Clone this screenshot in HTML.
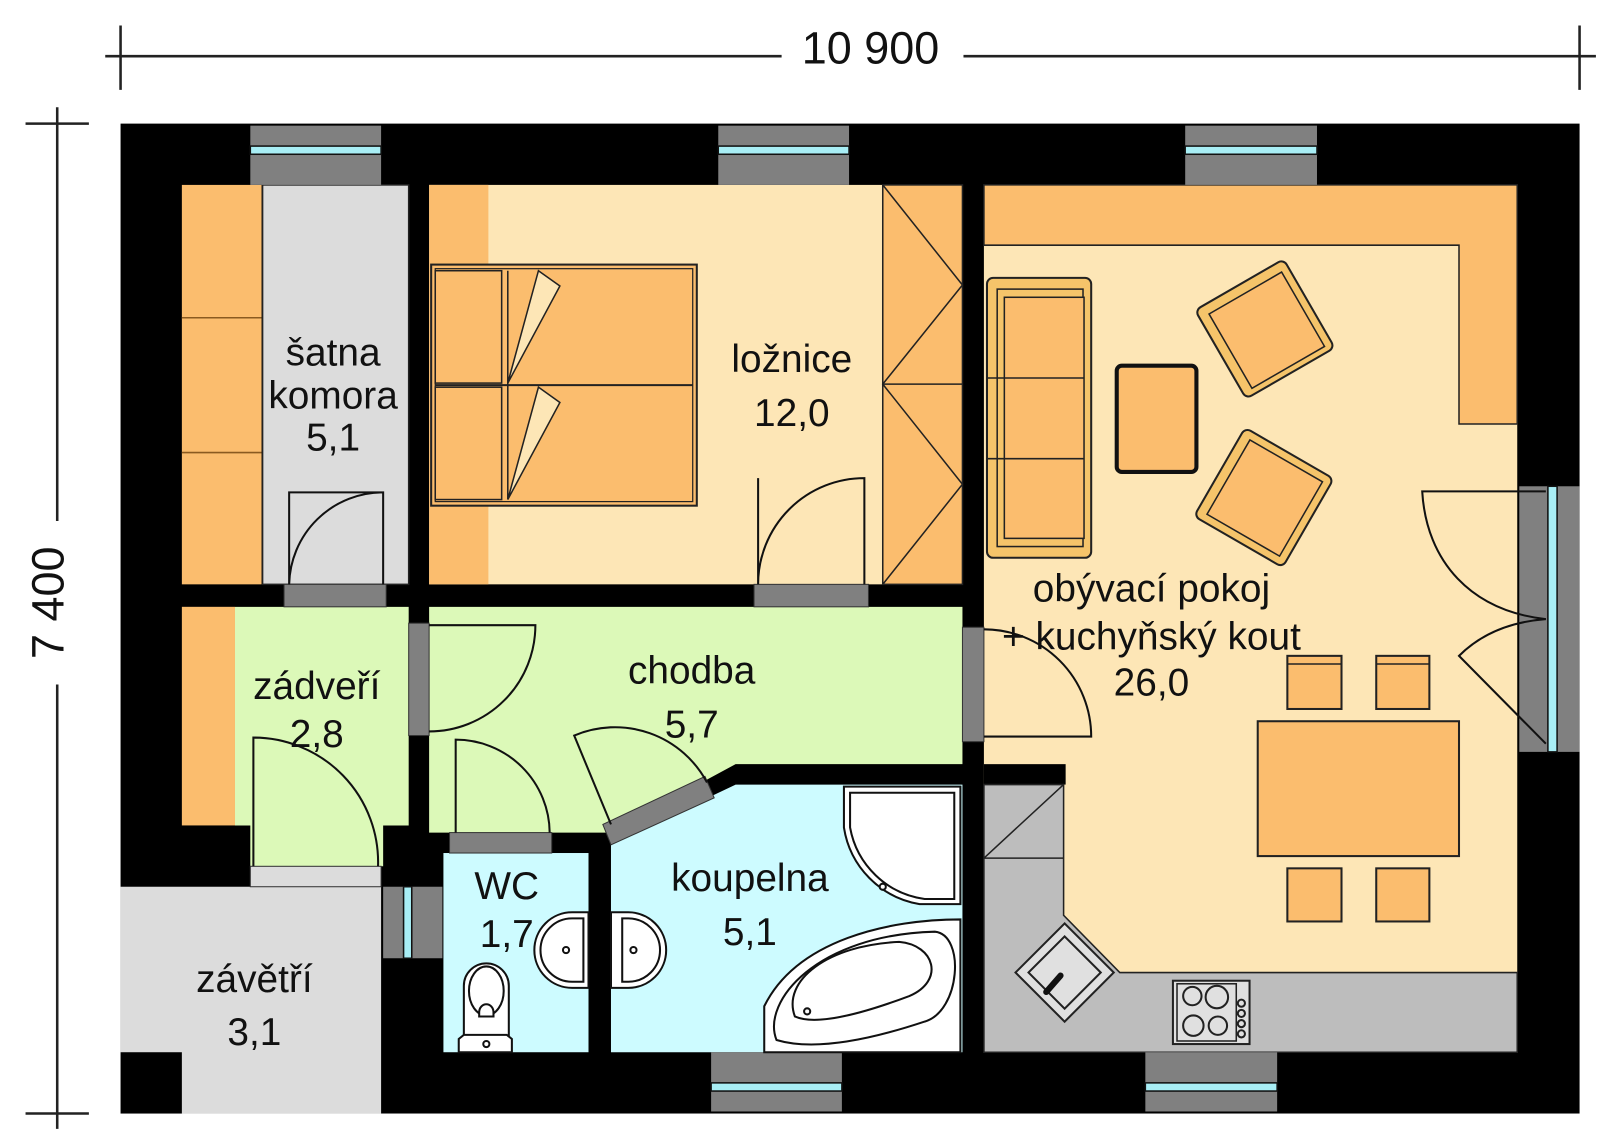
<!DOCTYPE html>
<html><head><meta charset="utf-8"><style>
html,body{margin:0;padding:0;background:#fff;}
svg{display:block}
text{font-family:"Liberation Sans",sans-serif;fill:#111;}
</style></head><body>
<svg width="1600" height="1136" viewBox="0 0 1566 1112" preserveAspectRatio="none" xmlns="http://www.w3.org/2000/svg">
<g stroke="#222" stroke-width="2.5" fill="none">
<line x1="103" y1="55" x2="765" y2="55"/><line x1="943" y1="55" x2="1562" y2="55"/>
<line x1="118" y1="25" x2="118" y2="88"/><line x1="1546" y1="25" x2="1546" y2="88"/>
<line x1="56" y1="105" x2="56" y2="510"/><line x1="56" y1="670" x2="56" y2="1105"/>
<line x1="25" y1="121" x2="87" y2="121"/><line x1="25" y1="1090" x2="87" y2="1090"/>
</g>
<text x="852" y="62" font-size="44" text-anchor="middle">10 900</text>
<text transform="translate(62,590) rotate(-90)" font-size="44" text-anchor="middle">7 400</text>

<rect x="118" y="121" width="1428" height="969" fill="#000"/>

<rect x="178" y="181" width="78" height="391" fill="#fbbd6e"/>
<g stroke="#8a5a20" stroke-width="1.5"><line x1="178" y1="311" x2="256" y2="311"/><line x1="178" y1="443" x2="256" y2="443"/></g>
<rect x="257" y="181" width="143" height="391" fill="#dcdcdc" stroke="#222" stroke-width="1.5"/>
<rect x="420" y="181" width="522" height="391" fill="#fde6b6"/>
<rect x="420" y="181" width="58" height="391" fill="#fbbd6e"/>
<rect x="864" y="181" width="78" height="391" fill="#fbbd6e" stroke="#222" stroke-width="1.5"/>
<polyline points="864,181 942,279 864,376 942,474 864,572" fill="none" stroke="#222" stroke-width="1.5"/>
<line x1="864" y1="376" x2="942" y2="376" stroke="#222" stroke-width="1.5"/>
<rect x="422" y="259" width="260" height="236" fill="#fbbd6e" stroke="#222" stroke-width="2"/>
<rect x="426" y="263" width="252" height="228" fill="none" stroke="#222" stroke-width="1.2"/>
<line x1="426" y1="377" x2="678" y2="377" stroke="#222" stroke-width="2"/>
<rect x="426" y="265" width="65" height="110" fill="#fbbd6e" stroke="#222" stroke-width="1.5"/>
<rect x="426" y="379" width="65" height="110" fill="#fbbd6e" stroke="#222" stroke-width="1.5"/>
<polygon points="497,375 527,265 548,280" fill="#fde6b6" stroke="#222" stroke-width="1.5"/>
<polygon points="497,489 527,379 548,394" fill="#fde6b6" stroke="#222" stroke-width="1.5"/>
<line x1="497" y1="265" x2="497" y2="489" stroke="#222" stroke-width="1.5"/>

<rect x="963" y="181" width="522" height="849" fill="#fde6b6"/>
<polygon points="963,181 1485,181 1485,415 1428,415 1428,240 963,240" fill="#fbbd6e" stroke="#222" stroke-width="1.5"/>
<rect x="963" y="748" width="80" height="20" fill="#000"/>
<polygon points="963,768 1041,768 1041,896 1096,952 1485,952 1485,1030 963,1030" fill="#bdbdbd" stroke="#222" stroke-width="1.5"/>
<line x1="963" y1="840" x2="1041" y2="840" stroke="#222" stroke-width="1.5"/>
<line x1="963" y1="840" x2="1041" y2="768" stroke="#222" stroke-width="1.5"/>
<g transform="translate(1042,952) rotate(45)">
<rect x="-34" y="-34" width="68" height="68" fill="#e0e0e0" stroke="#222" stroke-width="2"/>
<rect x="-25" y="-25" width="50" height="50" fill="#e0e0e0" stroke="#222" stroke-width="2"/>
</g>
<line x1="1024" y1="971" x2="1038" y2="955" stroke="#111" stroke-width="6" stroke-linecap="round"/>
<rect x="1148" y="960" width="75" height="62" fill="#e0e0e0" stroke="#222" stroke-width="2"/>
<rect x="1152" y="963" width="58" height="56" fill="none" stroke="#222" stroke-width="1.5"/>
<g fill="none" stroke="#222" stroke-width="2"><circle cx="1167" cy="975" r="9"/><circle cx="1191" cy="976" r="11"/><circle cx="1168" cy="1004" r="10"/><circle cx="1192" cy="1004" r="9"/>
<circle cx="1215" cy="982" r="3.5"/><circle cx="1215" cy="992" r="3.5"/><circle cx="1215" cy="1002" r="3.5"/><circle cx="1215" cy="1012" r="3.5"/></g>
<rect x="966" y="272" width="102" height="274" rx="6" fill="#f5c46a" stroke="#222" stroke-width="2"/>
<rect x="976" y="283" width="84" height="252" fill="#f5c46a" stroke="#222" stroke-width="1.5"/>
<rect x="983" y="291" width="78" height="236" fill="#fbbd6e" stroke="#222" stroke-width="1.5"/>
<line x1="966" y1="370" x2="1061" y2="370" stroke="#222" stroke-width="1.5"/><line x1="966" y1="449" x2="1061" y2="449" stroke="#222" stroke-width="1.5"/>
<rect x="1093" y="358" width="78" height="104" rx="5" fill="#fbbd6e" stroke="#111" stroke-width="4"/>
<g transform="translate(1238,322) rotate(-30)">
<rect x="-50" y="-50" width="100" height="100" rx="6" fill="#f5c46a" stroke="#222" stroke-width="2"/>
<rect x="-40" y="-40" width="82" height="84" fill="#fbbd6e" stroke="#222" stroke-width="1.5"/>
</g>
<g transform="translate(1237,487) rotate(30)">
<rect x="-50" y="-50" width="100" height="100" rx="6" fill="#f5c46a" stroke="#222" stroke-width="2"/>
<rect x="-40" y="-42" width="82" height="84" fill="#fbbd6e" stroke="#222" stroke-width="1.5"/>
</g>
<g fill="#fbbd6e" stroke="#222" stroke-width="2">
<rect x="1231" y="706" width="197" height="132"/>
<rect x="1260" y="642" width="53" height="52"/><rect x="1347" y="642" width="52" height="52"/>
<rect x="1260" y="850" width="53" height="52"/><rect x="1347" y="850" width="52" height="52"/>
</g>
<g stroke="#222" stroke-width="1.5"><line x1="1260" y1="650" x2="1313" y2="650"/><line x1="1347" y1="650" x2="1399" y2="650"/></g>

<polygon points="420,594 942,594 942,748 720,748 596,815 420,815" fill="#dcf9b8"/>
<rect x="178" y="594" width="52" height="214" fill="#fbbd6e"/>
<polygon points="230,594 400,594 400,808 375,808 375,848 245,848 245,808 230,808" fill="#dcf9b8"/>
<rect x="434" y="835" width="142" height="195" fill="#cdfbff"/>
<polygon points="598,826 720,768 942,768 942,1030 598,1030" fill="#cdfbff"/>
<rect x="118" y="868" width="255" height="222" fill="#dcdcdc"/>
<rect x="118" y="1030" width="60" height="60" fill="#000"/>

<g fill="#808080">
<rect x="245" y="123" width="128" height="58"/><rect x="703" y="123" width="128" height="58"/><rect x="1160" y="123" width="129" height="58"/>
<rect x="696" y="1030" width="128" height="58"/><rect x="1121" y="1030" width="129" height="58"/>
<rect x="1487" y="476" width="59" height="260"/>
<rect x="375" y="868" width="58" height="70"/>
</g>
<g fill="#a8eef5" stroke="#111" stroke-width="1.5">
<rect x="245" y="143" width="128" height="8"/><rect x="703" y="143" width="128" height="8"/><rect x="1160" y="143" width="129" height="8"/>
<rect x="696" y="1060" width="128" height="8"/><rect x="1121" y="1060" width="129" height="8"/>
<rect x="1515" y="476" width="9" height="260"/>
<rect x="395" y="868" width="8" height="70"/>
</g>
<g fill="#808080" stroke="#333" stroke-width="1">
<rect x="278" y="572" width="100" height="22"/><rect x="738" y="572" width="112" height="22"/>
<rect x="400" y="610" width="20" height="110"/><rect x="942" y="614" width="21" height="112"/>
<rect x="440" y="815" width="100" height="20"/>
<polygon points="590,807 690,760 699,781 598,827"/>
</g>
<rect x="245" y="848" width="128" height="20" fill="#dcdcdc" stroke="#333" stroke-width="1"/>

<g fill="none" stroke="#111" stroke-width="2">
<path d="M283,572 L283,482 L375,482 L375,572 M283,572 A92,92 0 0 1 375,482"/>
<path d="M742,572 L742,468 M742,572 A104,104 0 0 1 846,468 L846,572"/>
<path d="M420,612 L524,612 A104,104 0 0 1 420,716"/>
<path d="M248,848 L248,722 A122,122 0 0 1 370,848"/>
<path d="M446,815 L446,724 A92,92 0 0 1 538,815"/>
<path d="M598,807 L562,720 A102,102 0 0 1 692,766"/>
<path d="M963,616 A105,105 0 0 1 1068,721 L963,721"/>
<path d="M1513,481 L1392,481 C1396,550 1440,598 1513,606"/>
<path d="M1513,728 L1428,642 C1448,622 1475,609 1513,606"/>
</g>

<g fill="#fff" stroke="#111" stroke-width="2">
<path d="M826,770 L940,770 L940,885 L900,885 A90,90 0 0 1 826,810 Z"/>
<path d="M832,776 L934,776 L934,880 L905,880 A86,86 0 0 1 832,810 Z"/>
<path d="M748,1030 L748,985 C780,920 870,900 940,900 L940,1030 Z"/>
<path d="M760,1018 C745,980 800,915 915,912 C945,915 940,990 905,1000 C860,1015 800,1030 760,1018 Z"/>
<path d="M778,995 C765,960 810,925 880,922 C915,925 925,960 890,975 C850,990 800,1005 778,995 Z"/>
<path d="M576,893 L560,893 A37,37 0 0 0 560,967 L576,967 Z"/>
<path d="M571,899 L560,899 A31,31 0 0 0 560,961 L571,961 Z"/>
<path d="M598,893 L615,893 A37,37 0 0 1 615,967 L598,967 Z"/>
<path d="M609,899 L615,899 A31,31 0 0 1 615,961 L609,961 Z"/>
<path d="M454,1014 L454,965 A22,22 0 0 1 498,965 L498,1014 Z"/>
<path d="M449,1030 L449,1017 L454,1013 L496,1013 L501,1017 L501,1030 Z"/>
<ellipse cx="476" cy="970" rx="17" ry="24"/>
<path d="M469,991 A7,8 0 0 1 483,991 L483,995 L469,995 Z"/>
<circle cx="864" cy="868" r="3"/><circle cx="790" cy="990" r="3"/><circle cx="554" cy="930" r="3"/><circle cx="620" cy="930" r="3"/><circle cx="476" cy="1022" r="3"/>
</g>

<g font-size="38" text-anchor="middle">
<text x="326" y="358">šatna</text><text x="326" y="400">komora</text><text x="326" y="441">5,1</text>
<text x="775" y="364">ložnice</text><text x="775" y="417">12,0</text>
<text x="1127" y="589">obývací pokoj</text><text x="1127" y="636">+ kuchyňský kout</text><text x="1127" y="681">26,0</text>
<text x="677" y="669">chodba</text><text x="677" y="722">5,7</text>
<text x="310" y="684">zádveří</text><text x="310" y="731">2,8</text>
<text x="496" y="880">WC</text><text x="496" y="927">1,7</text>
<text x="734" y="872">koupelna</text><text x="734" y="925">5,1</text>
<text x="249" y="971">závětří</text><text x="249" y="1023">3,1</text>
</g>
</svg>
</body></html>
